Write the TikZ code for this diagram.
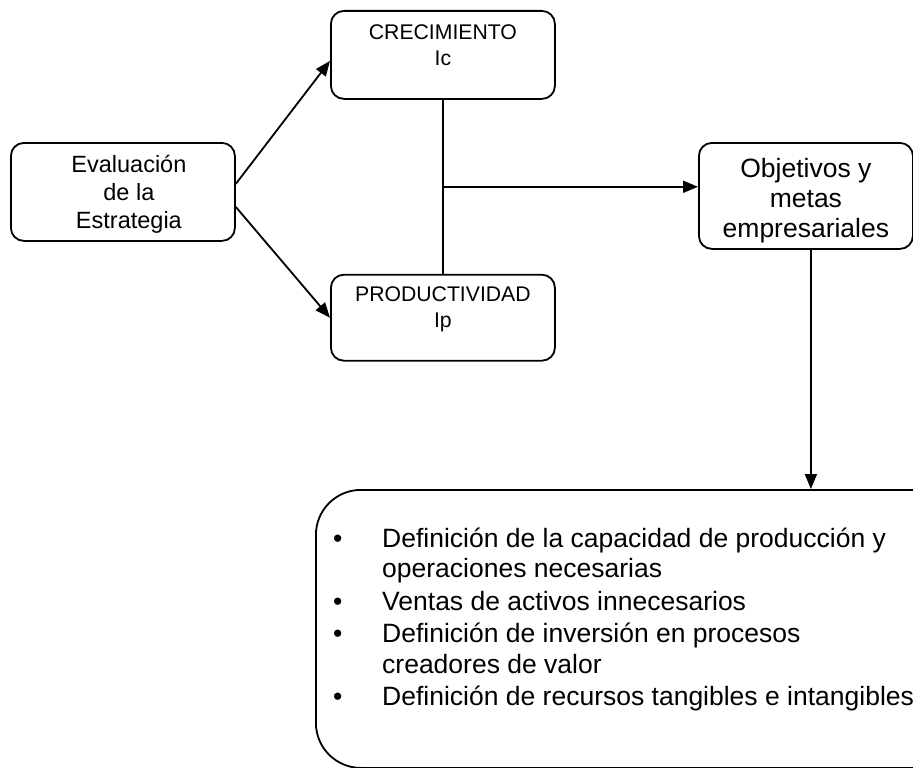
\documentclass[tikz,border=0pt]{standalone}
\usepackage{fontspec}
\setmainfont{Liberation Sans}
\usetikzlibrary{arrows.meta,positioning}
\tikzset{
  caja/.style={rectangle, rounded corners=13pt, draw=black, line width=1.8pt,
    align=center, inner sep=0pt},
  flecha/.style={-{Triangle[length=15pt,width=12pt]}, line width=1.8pt},
  linea/.style={line width=1.8pt}
}

\begin{document}
\begin{tikzpicture}[x=1pt,y=-1pt]
  \useasboundingbox (0,0) rectangle (913,768);
  \node[caja, anchor=north west, minimum width=224pt, text height=86pt, text depth=12pt,
    font=\fontsize{23.5}{28}\selectfont] (eval) at (10,142) {\hspace*{12pt}Evaluación\\\hspace*{12pt}de la\\\hspace*{12pt}Estrategia};
  \node[caja, anchor=north west, minimum width=224pt, text height=55pt, text depth=33pt,
    font=\fontsize{21.2}{26}\selectfont] (crec) at (330,10) {CRECIMIENTO\\Ic};
  \node[caja, below=174pt of crec, minimum width=224pt, text height=53pt, text depth=33pt,
    font=\fontsize{21.2}{26}\selectfont] (prod) {PRODUCTIVIDAD\\Ip};
  \node[caja, anchor=north west, minimum width=214pt, text height=95pt, text depth=11pt,
    font=\fontsize{26.5}{30}\selectfont] (obj) at (698,142) {Objetivos y\\metas\\empresariales};
  \node[caja, rounded corners=45pt, anchor=north west, minimum width=660pt,
    minimum height=278pt] (lista) at (315,489) {};
  \node[anchor=base west, inner sep=0pt, font=\fontsize{26.5}{30.5}\selectfont] (puntos) at (333,547) {%
    \begin{tabular}[t]{@{}p{49pt}@{}l@{}}
      • & Definición de la capacidad de producción y\\
        & operaciones necesarias\\[2pt]
      • & Ventas de activos innecesarios\\[2pt]
      • & Definición de inversión en procesos\\
        & creadores de valor\\[2pt]
      • & Definición de recursos tangibles e intangibles
    \end{tabular}};

  \draw[flecha] ([yshift=8pt]eval.east) -- ([yshift=-6pt]crec.west);
  \draw[flecha] ([yshift=-15pt]eval.east) -- (prod.west);
  \draw[linea] (crec) -- coordinate[midway] (cruce) (prod);
  \draw[flecha] (cruce) -- (cruce -| obj.west);
  \draw[flecha] ([xshift=5pt]obj.south) -- ([xshift=5pt]obj.south |- lista.north);
\end{tikzpicture}
\end{document}
